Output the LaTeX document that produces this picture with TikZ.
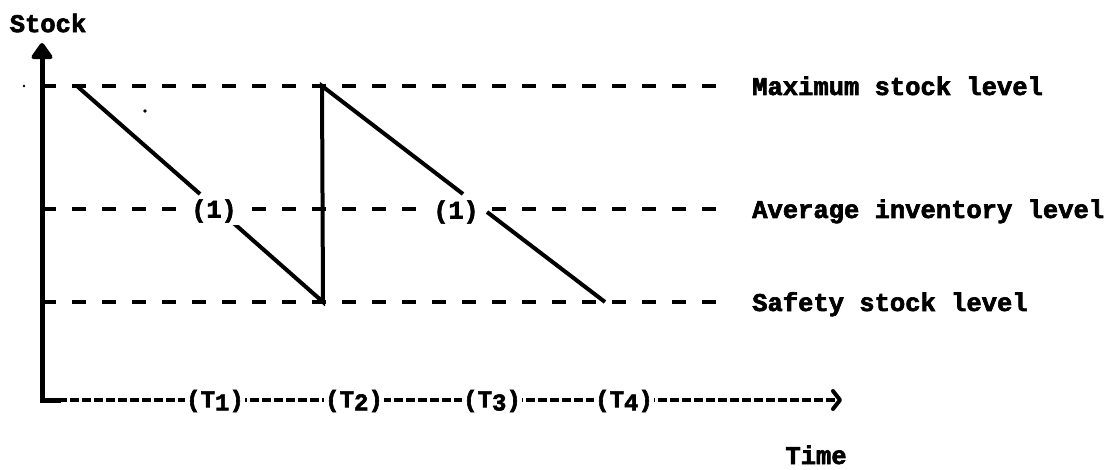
\documentclass[tikz,border=0pt]{standalone}
\usepackage{fontspec}
\setmainfont{Liberation Mono}[BoldFeatures={FakeBold=2.5}]
\usetikzlibrary{arrows.meta}
\begin{document}
\begin{tikzpicture}[x=1pt,y=-1pt,
  txt/.style={font=\fontsize{25.5}{25.5}\selectfont\bfseries, inner sep=0pt},
  tlbl/.style={font=\fontsize{24}{24}\selectfont\bfseries, inner sep=1.5pt, fill=white},
  onelbl/.style={font=\fontsize{25}{25}\selectfont\bfseries, inner sep=0pt},
  levelline/.style={line width=3.5pt, dash pattern=on 14pt off 16pt},
  curve/.style={line width=4pt, line join=miter},
  yaxis/.style={line width=5pt, -{Triangle[width=24pt,length=18pt,round]}},
  xaxis/.style={line width=4pt, dash pattern=on 9pt off 3pt, -{Straight Barb[length=7pt,width=18pt,round]}},
  speck/.style={fill=black}]
\useasboundingbox (0,0) rectangle (1107,470);

% axes
\coordinate (O) at (42,400);
\coordinate (Ytip) at (42,43);
\coordinate (Xtip) at (842,400);
\coordinate (Xs) at (58,400);
\draw[line width=5pt, line cap=rect] (Xs) -- (O);
\draw[yaxis] (O) -- (Ytip);
\draw[xaxis] (Xs) -- (Xtip);

\node[txt] (stock) at (48,23) {Stock};
\node[txt, anchor=base] (time) at (816,464) {Time};

% level lines
\coordinate (M0) at (42,86);  \coordinate (M1) at (717,86);
\coordinate (A0) at (42,209); \coordinate (A1) at (717,209);
\coordinate (S0) at (42,302); \coordinate (S1) at (717,302);
\draw[levelline] (M0) -- (M1);
\draw[levelline] (A0) -- (A1);
\draw[levelline] (S0) -- (S1);

\node[txt, anchor=base west] (maxl) at (752,95) {Maximum stock level};
\node[txt, anchor=base west] (avgl) at (752,218) {Average inventory level};
\node[txt, anchor=base west] (safl) at (752,311) {Safety stock level};

% saw-tooth stock curve
\coordinate (P0) at (78,87);
\coordinate (P1) at (200,194);
\coordinate (P2) at (230,220);
\coordinate (P3) at (323,302);
\coordinate (P4) at (322,86);
\coordinate (P5) at (463,194);
\coordinate (P6) at (487,212);
\coordinate (P7) at (605,302);
\draw[curve] (P0) -- (P1);
\draw[curve] (P2) -- (P3) -- (P4) -- (P5);
\draw[curve] (P6) -- (P7);

\node[onelbl, fill=white, inner sep=2pt] (one1) at (214,211) {(1)};
\node[onelbl, fill=white, inner sep=2pt] (one2) at (456,212) {(1)};

% time labels
\node[tlbl] (t1) at (215,401) {(T\raisebox{-0.25ex}{1})};
\node[tlbl] (t2) at (354,401) {(T\raisebox{-0.25ex}{2})};
\node[tlbl] (t3) at (492,401) {(T\raisebox{-0.25ex}{3})};
\node[tlbl] (t4) at (624,401) {(T\raisebox{-0.25ex}{4})};

% scan specks
\fill[speck] (24,86) circle (1.3pt);
\fill[speck] (145,111) circle (1.8pt);
\end{tikzpicture}
\end{document}
